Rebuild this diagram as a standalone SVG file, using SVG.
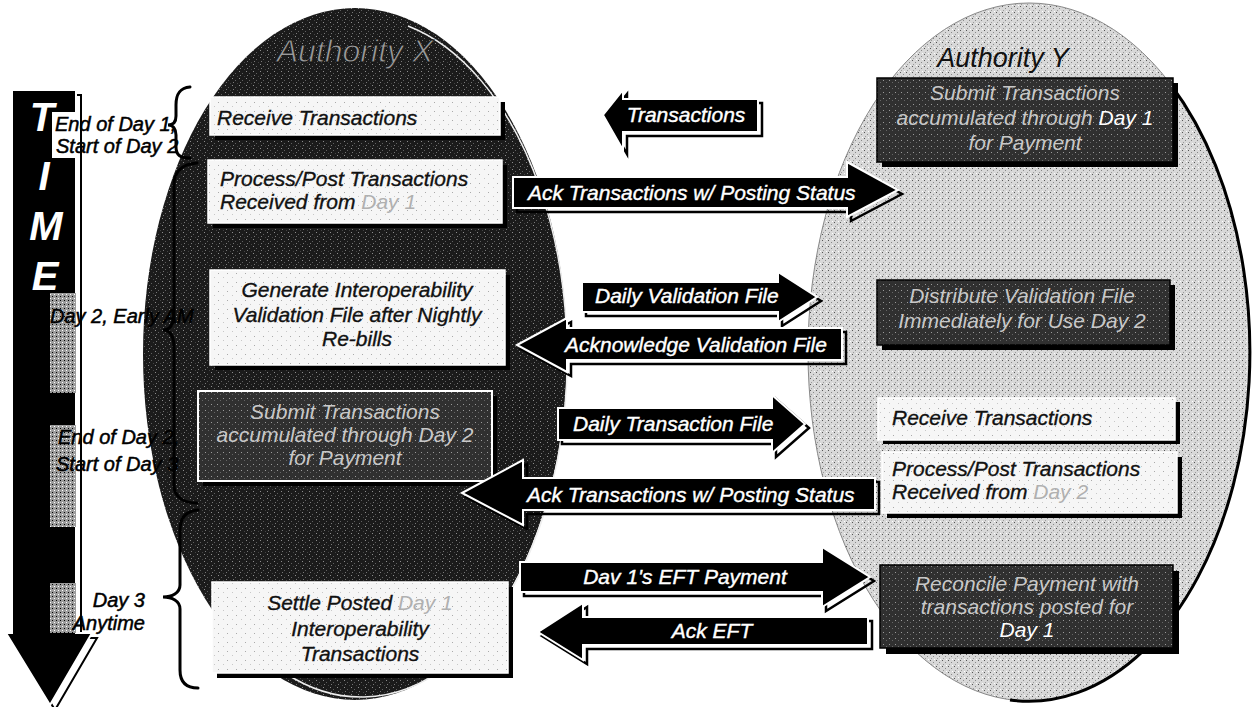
<svg xmlns="http://www.w3.org/2000/svg" width="1254" height="707" viewBox="0 0 1254 707">
<defs>
  <pattern id="pDark" width="7" height="7" patternUnits="userSpaceOnUse">
    <rect width="7" height="7" fill="#1b1b1b"/>
    <rect x="1" y="1" width="1" height="1" fill="#8c8c8c"/>
    <rect x="4" y="3" width="1" height="1" fill="#606060"/>
    <rect x="2" y="5" width="1" height="1" fill="#777"/>
    <rect x="6" y="6" width="1" height="1" fill="#444"/>
  </pattern>
  <pattern id="pLight" width="6" height="6" patternUnits="userSpaceOnUse">
    <rect width="6" height="6" fill="#d8d8d8"/>
    <rect x="0" y="0" width="1" height="1" fill="#555"/>
    <rect x="3" y="2" width="1" height="1" fill="#888"/>
    <rect x="1" y="4" width="1" height="1" fill="#9a9a9a"/>
    <rect x="4" y="5" width="1" height="1" fill="#fff"/>
  </pattern>
  <pattern id="pBox" width="9" height="9" patternUnits="userSpaceOnUse">
    <rect width="9" height="9" fill="#f6f6f6"/>
    <rect x="2" y="3" width="1" height="1" fill="#aaa"/>
    <rect x="7" y="7" width="1" height="1" fill="#c8c8c8"/>
  </pattern>
  <pattern id="pDarkBox" width="6" height="6" patternUnits="userSpaceOnUse">
    <rect width="6" height="6" fill="#303030"/>
    <rect x="1" y="2" width="1" height="1" fill="#9a9a9a"/>
    <rect x="4" y="4" width="1" height="1" fill="#666"/>
  </pattern>
  <pattern id="pMid" width="4" height="4" patternUnits="userSpaceOnUse">
    <rect width="4" height="4" fill="#9c9c9c"/>
    <rect x="0" y="0" width="1" height="1" fill="#000"/>
    <rect x="2" y="2" width="1" height="1" fill="#fff"/>
  </pattern>
  <style>
    text{font-family:"Liberation Sans",Arial,sans-serif;font-style:italic}
    .lbl{font-size:20px;fill:#000;stroke:#000;stroke-width:0.5}
    .btx{font-size:21px;fill:#111;stroke:#111;stroke-width:0.35}
    .dtx{font-size:21px;fill:#c8c8c8}
    .atx{font-size:21px;fill:#fff;stroke:#fff;stroke-width:0.4}
    .time{font-size:40px;font-weight:bold;fill:#fff}
    .arrow{fill:#000;stroke:#fff;stroke-width:2;stroke-linejoin:miter}
    .ash{fill:none;stroke:#000;stroke-width:2.5}
    .wbox{fill:url(#pBox);stroke:#fff;stroke-width:1.5}
    .dbox{fill:url(#pDarkBox);stroke:#000;stroke-width:1.5}
    .dboxw{fill:url(#pDarkBox);stroke:#fff;stroke-width:2}
    .shadow{fill:#000}
    .brace{fill:none;stroke:#000;stroke-width:3;stroke-linecap:round}
    .faded{fill:#b0b0b0;stroke:none}
    .bright{fill:#fff}
    .mid{text-anchor:middle}
  </style>
</defs>
<rect width="1254" height="707" fill="#fff"/>

<g id="authority-x">
  <ellipse cx="355" cy="354" rx="212" ry="346" fill="url(#pDark)"/>
  <path d="M408,26 A206,340 0 1 1 285,673" fill="none" stroke="#eee" stroke-width="1.5"/>
  <text x="355" y="62" class="mid" font-size="32" fill="#9a9a9a" stroke="#111" stroke-width="0.8">Authority X</text>
</g>

<g id="authority-y">
  <ellipse cx="1029" cy="352" rx="221" ry="349" fill="url(#pLight)" stroke="#888" stroke-width="1"/>
  <path d="M1171,85 A221,349 0 0 1 1010,700" fill="none" stroke="#000" stroke-width="3"/>
  <text x="1003" y="67" class="mid" font-size="27" fill="#111">Authority Y</text>
</g>

<g id="time-arrow">
  <path d="M17,95 H81 V638 H97 L55,710 L11,638 H17 Z" fill="none" stroke="#000" stroke-width="2"/>
  <path d="M12,90 H76 V633 H92 L50,705 L6,633 H12 Z" fill="#000" stroke="#fff" stroke-width="2"/>
  <rect x="52" y="112" width="24" height="46" fill="#fff"/>
  <rect x="50" y="293" width="26" height="100" fill="url(#pMid)"/>
  <rect x="50" y="425" width="26" height="102" fill="url(#pMid)"/>
  <rect x="50" y="583" width="26" height="50" fill="url(#pMid)"/>
  <text x="42" y="131" class="time mid">T</text>
  <text x="44" y="190" class="time mid">I</text>
  <text x="46" y="240" class="time mid">M</text>
  <text x="45" y="290" class="time mid">E</text>
</g>

<g id="time-labels">
  <text x="55" y="131" class="lbl">End of Day 1,</text>
  <text x="56" y="153" class="lbl">Start of Day 2</text>
  <text x="50" y="323" class="lbl">Day 2, Early AM</text>
  <text x="58" y="444" class="lbl">End of Day 2,</text>
  <text x="56" y="471" class="lbl">Start of Day 3</text>
  <text x="145" y="607" class="lbl" text-anchor="end">Day 3</text>
  <text x="145" y="630" class="lbl" text-anchor="end">Anytime</text>
  <path class="brace" d="M190,87 C179,88 176,95 176,105 L176,116 C176,122 173,125 168,125 C173,125 176,129 176,135 L176,147 C176,155 180,158 190,158"/>
  <path class="brace" d="M197,163 C182,164 174,172 174,185 L174,312 C174,325 170,330 163,330 C170,330 174,336 174,348 L174,485 C174,498 185,503 197,503"/>
  <path class="brace" d="M198,510 C186,511 180,518 180,530 L180,585 C180,593 172,597 163,597 C172,597 180,601 180,609 L180,670 C180,682 186,688 198,688"/>
</g>

<g id="x-receive">
  <rect x="215" y="102" width="290" height="38" class="shadow"/>
  <rect x="210" y="97" width="290" height="38" class="wbox"/>
  <text x="217" y="125" class="btx">Receive Transactions</text>
</g>
<g id="x-process">
  <rect x="213" y="165" width="294" height="63" class="shadow"/>
  <rect x="208" y="160" width="294" height="63" class="wbox"/>
  <text x="220" y="186" class="btx">Process/Post Transactions</text>
  <text x="220" y="209" class="btx">Received from <tspan class="faded">Day 1</tspan></text>
</g>
<g id="x-generate">
  <rect x="215" y="275" width="295" height="95" class="shadow"/>
  <rect x="210" y="270" width="295" height="95" class="wbox"/>
  <text x="357" y="297" class="btx mid">Generate Interoperability</text>
  <text x="357" y="322" class="btx mid">Validation File after Nightly</text>
  <text x="357" y="346" class="btx mid">Re-bills</text>
</g>
<g id="x-submit">
  <rect x="203" y="396" width="294" height="90" class="shadow"/>
  <rect x="198" y="391" width="294" height="90" class="dboxw"/>
  <text x="345" y="419" class="dtx mid">Submit Transactions</text>
  <text x="345" y="442" class="dtx mid">accumulated through Day 2</text>
  <text x="345" y="465" class="dtx mid">for Payment</text>
</g>
<g id="x-settle">
  <rect x="217" y="587" width="296" height="91" class="shadow"/>
  <rect x="212" y="582" width="296" height="91" class="wbox"/>
  <text x="360" y="610" class="btx mid">Settle Posted <tspan class="faded">Day 1</tspan></text>
  <text x="360" y="636" class="btx mid">Interoperability</text>
  <text x="360" y="661" class="btx mid">Transactions</text>
</g>

<g id="y-submit">
  <rect x="882" y="83" width="296" height="84" class="shadow"/>
  <rect x="877" y="78" width="296" height="84" class="dbox"/>
  <text x="1025" y="100" class="dtx mid">Submit Transactions</text>
  <text x="1025" y="125" class="dtx mid">accumulated through <tspan class="bright">Day 1</tspan></text>
  <text x="1025" y="150" class="dtx mid">for Payment</text>
</g>
<g id="y-distribute">
  <rect x="882" y="285" width="293" height="65" class="shadow"/>
  <rect x="877" y="280" width="293" height="65" class="dbox"/>
  <text x="1022" y="303" class="dtx mid">Distribute Validation File</text>
  <text x="1022" y="328" class="dtx mid">Immediately for Use Day 2</text>
</g>
<g id="y-receive">
  <rect x="883" y="402" width="297" height="42" class="shadow"/>
  <rect x="878" y="398" width="297" height="42" class="wbox"/>
  <text x="892" y="425" class="btx">Receive Transactions</text>
</g>
<g id="y-process">
  <rect x="887" y="457" width="295" height="61" class="shadow"/>
  <rect x="882" y="452" width="295" height="61" class="wbox"/>
  <text x="892" y="476" class="btx">Process/Post Transactions</text>
  <text x="892" y="499" class="btx">Received from <tspan class="faded">Day 2</tspan></text>
</g>
<g id="y-reconcile">
  <rect x="886" y="571" width="293" height="83" class="shadow"/>
  <rect x="880" y="565" width="293" height="83" class="dbox"/>
  <text x="1027" y="591" class="dtx mid">Reconcile Payment with</text>
  <text x="1027" y="614" class="dtx mid">transactions posted for</text>
  <text x="1027" y="637" class="dtx mid"><tspan class="bright">Day 1</tspan></text>
</g>

<g id="connectors">
  <g id="a-transactions">
    <path class="ash" transform="translate(4,4)" d="M603,115 L623,90 L623,99 L758,99 L758,132 L623,132 L623,150 Z"/>
    <path class="arrow" d="M603,115 L623,90 L623,99 L758,99 L758,132 L623,132 L623,150 Z"/>
    <text x="686" y="122" class="atx mid">Transactions</text>
  </g>
  <g id="a-ack-posting-1">
    <path class="ash" transform="translate(4,4)" d="M513,177 L847,177 L847,162 L898,190 L847,217 L847,208 L513,208 Z"/>
    <path class="arrow" d="M513,177 L847,177 L847,162 L898,190 L847,217 L847,208 L513,208 Z"/>
    <text x="528" y="200" class="atx">Ack Transactions w/ Posting Status</text>
  </g>
  <g id="a-daily-validation">
    <path class="ash" transform="translate(4,4)" d="M582,282 L778,282 L778,272 L817,297 L778,322 L778,312 L582,312 Z"/>
    <path class="arrow" d="M582,282 L778,282 L778,272 L817,297 L778,322 L778,312 L582,312 Z"/>
    <text x="595" y="303" class="atx">Daily Validation File</text>
  </g>
  <g id="a-ack-validation">
    <path class="ash" transform="translate(4,4)" d="M517,345 L567,318 L567,328 L842,328 L842,360 L567,360 L567,372 Z"/>
    <path class="arrow" d="M517,345 L567,318 L567,328 L842,328 L842,360 L567,360 L567,372 Z"/>
    <text x="565" y="352" class="atx">Acknowledge Validation File</text>
  </g>
  <g id="a-daily-transaction">
    <path class="ash" transform="translate(4,4)" d="M558,408 L772,408 L772,395 L805,424 L772,453 L772,440 L558,440 Z"/>
    <path class="arrow" d="M558,408 L772,408 L772,395 L805,424 L772,453 L772,440 L558,440 Z"/>
    <text x="573" y="431" class="atx">Daily Transaction File</text>
  </g>
  <g id="a-ack-posting-2">
    <path class="ash" transform="translate(4,4)" d="M462,493 L523,460 L523,478 L875,478 L875,510 L523,510 L523,525 Z"/>
    <path class="arrow" d="M462,493 L523,460 L523,478 L875,478 L875,510 L523,510 L523,525 Z"/>
    <text x="527" y="502" class="atx">Ack Transactions w/ Posting Status</text>
  </g>
  <g id="a-eft-payment">
    <path class="ash" transform="translate(4,4)" d="M520,562 L822,562 L822,547 L870,577 L822,607 L822,592 L520,592 Z"/>
    <path class="arrow" d="M520,562 L822,562 L822,547 L870,577 L822,607 L822,592 L520,592 Z"/>
    <text x="685" y="584" class="atx mid">Dav 1's EFT Payment</text>
  </g>
  <g id="a-ack-eft">
    <path class="ash" transform="translate(4,4)" d="M538,632 L583,603 L583,617 L868,617 L868,645 L583,645 L583,660 Z"/>
    <path class="arrow" d="M538,632 L583,603 L583,617 L868,617 L868,645 L583,645 L583,660 Z"/>
    <text x="712" y="638" class="atx mid">Ack EFT</text>
  </g>
</g>
</svg>
